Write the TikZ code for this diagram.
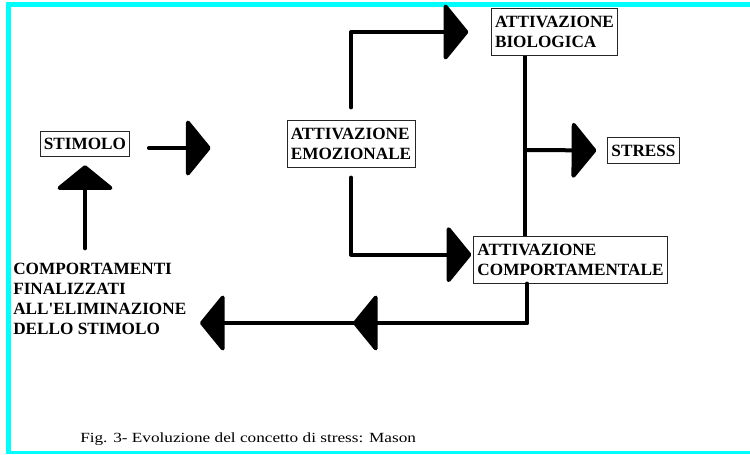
\documentclass[tikz,border=0pt]{standalone}
\usepackage{fontspec}
\setmainfont{Liberation Serif}
\usetikzlibrary{arrows.meta}
\definecolor{framecyan}{HTML}{00FFFF}
\begin{document}
\begin{tikzpicture}[x=0.75pt,y=-0.75pt,
  box/.style={draw=black!85, line width=0.6pt,
    font=\fontsize{12.9}{15.5}\selectfont\bfseries,
    align=left, inner xsep=2.8pt, inner ysep=5.3pt},
  label/.style={font=\fontsize{12.9}{15}\selectfont\bfseries,
    align=left, inner sep=0pt},
  plain/.style={line width=3pt, line join=round},
  conn/.style={line width=3pt, line join=round, line cap=round,
    -{Triangle[length=19pt,width=46pt,round]}}]
\useasboundingbox (0,0) rectangle (750,454);

% cyan page frame
\fill[framecyan] (6,2) rectangle (750,7);
\fill[framecyan] (6,2) rectangle (11,454);
\fill[framecyan] (6,451) rectangle (750,454);

% boxes
\node[box] (stim)   at (85,144)    {STIMOLO};
\node[box] (emo)    at (351,144)   {ATTIVAZIONE\\EMOZIONALE};
\node[box] (bio)    at (554.5,32)  {ATTIVAZIONE\\BIOLOGICA};
\node[box] (stress) at (643.5,150.5) {STRESS};
\node[box] (comp)   at (570.5,260) {ATTIVAZIONE\\COMPORTAMENTALE};

% free label
\node[label, anchor=north west] (final) at (13,263)
  {COMPORTAMENTI\\FINALIZZATI\\ALL\textquotesingle ELIMINAZIONE\\DELLO STIMOLO};

% caption
\node[anchor=base west, inner sep=0pt,
  font=\fontsize{10.5}{12}\selectfont\addfontfeatures{FakeStretch=1.23}] (cap)
  at (80,442) {Fig. 3- Evoluzione del concetto di stress: Mason};

% connectors
\draw[conn, shorten <=14pt, shorten >=57pt]
  ([yshift=-3pt]stim.east) -- ([yshift=-3pt]emo.west);
\draw[conn, shorten <=9.75pt, shorten >=17pt] (emo.north) |- (bio.west);
\draw[conn, shorten <=7.5pt, shorten >=1.5pt] (emo.south) |- ([yshift=4pt]comp.west);

\coordinate (spine) at (525,150);
\draw[plain] (bio.south -| spine) -- (comp.north -| spine);
\draw[conn, shorten >=8.25pt] (spine) -- (stress.west);

\coordinate (turn) at (527,323);
\coordinate (midtip) at (353,323);
\coordinate (endtip) at (200,323);
\draw[conn] (comp.south -| turn) -- (turn) -- (endtip);
\draw[conn] (turn) -- (midtip);

\draw[conn, shorten <=11pt, shorten >=6pt] (final.north -| stim.south) -- (stim.south);
\end{tikzpicture}
\end{document}
